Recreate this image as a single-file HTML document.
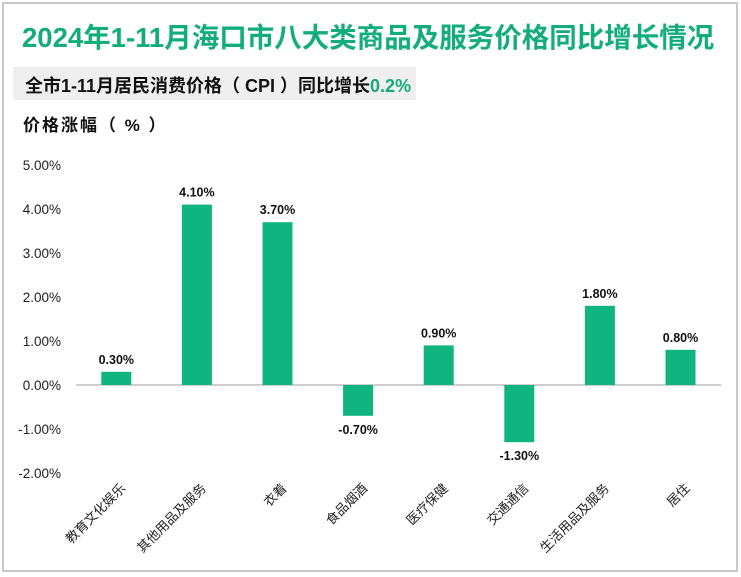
<!DOCTYPE html>
<html><head><meta charset="utf-8"><style>
body{margin:0;width:741px;height:577px;background:#fff;font-family:"Liberation Sans","Noto Sans CJK SC",sans-serif;overflow:hidden}
</style></head><body>
<svg width="741" height="577" style="position:absolute;left:0;top:0">
<rect x="3" y="3" width="734" height="568" fill="#fff" stroke="#c8c8c8" stroke-width="2"/>
<text x="22" y="47" font-size="27.5" font-weight="bold" fill="#13ad7c" font-family="Liberation Sans,Noto Sans CJK SC,sans-serif">2024年1-11月海口市八大类商品及服务价格同比增长情况</text>
<rect x="13" y="67" width="403" height="33" fill="#efefef"/>
<text x="25" y="92" font-size="18" font-weight="bold" fill="#111" font-family="Liberation Sans,Noto Sans CJK SC,sans-serif">全市1-11月居民消费价格（ CPI ）同比增长<tspan fill="#13ad7c">0.2%</tspan></text>
<text x="23" y="131" font-size="17" font-weight="bold" fill="#111" letter-spacing="2" font-family="Liberation Sans,Noto Sans CJK SC,sans-serif">价格涨幅（ % ）</text>
<g id="plot"></g>
</svg>
<script>
const categories=["教育文化娱乐","其他用品及服务","衣着","食品烟酒","医疗保健","交通通信","生活用品及服务","居住"];
const values=[0.3,4.1,3.7,-0.7,0.9,-1.3,1.8,0.8];
const ticks=[5,4,3,2,1,0,-1,-2];
const y0=385,pxPer=44,x0=76,step=80.6,bw=30;
const y=v=>y0-v*pxPer;
const xc=i=>x0+step*(i+0.5);
const g=document.getElementById('plot');
const NS='http://www.w3.org/2000/svg';
function mk(t,a){const e=document.createElementNS(NS,t);for(const k in a)e.setAttribute(k,a[k]);g.appendChild(e);return e;}
ticks.forEach(t=>{const e=mk('text',{x:61,y:y(t)+5,'text-anchor':'end','font-size':13.5,fill:'#222'});e.textContent=t.toFixed(2)+'%';

});
const ax=mk('line',{x1:x0,x2:721,y1:y0,y2:y0,stroke:'#bdbdbd','stroke-width':1.5});


values.forEach((v,i)=>{
const cx=xc(i);
const r=mk('rect',{x:cx-bw/2,y:Math.min(y(v),y0),width:bw,height:Math.abs(v)*pxPer,fill:'#10b47f'});


const ly=v>=0?y(v)-8:y(v)+18;
const t=mk('text',{x:cx,y:ly,'text-anchor':'middle','font-size':12.5,'font-weight':'bold',fill:'#111'});t.textContent=v.toFixed(2)+'%';


const c=mk('text',{x:cx+10,y:489,'text-anchor':'end','font-size':13,fill:'#222',transform:`rotate(-45 ${cx+10} 489)`});c.textContent=categories[i];


});
</script>
</body></html>
